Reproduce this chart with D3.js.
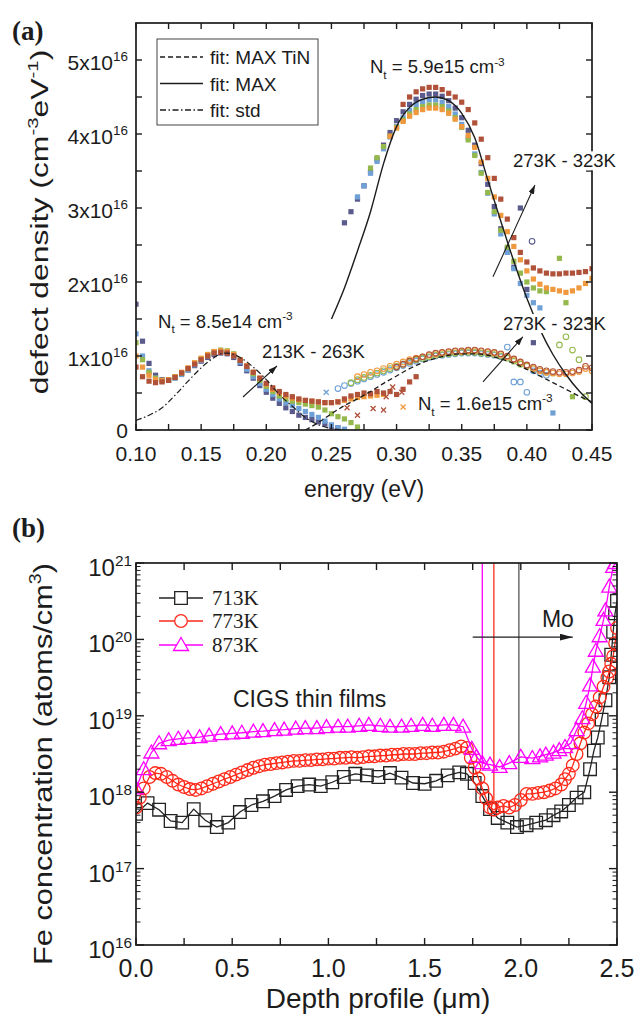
<!DOCTYPE html>
<html><head><meta charset="utf-8">
<script src="https://cdn.jsdelivr.net/npm/d3@7/dist/d3.min.js"></script>
<style>html,body{margin:0;padding:0;background:#fff}svg{display:block}</style>
</head><body>
<svg id="chart" width="636" height="1016"></svg>
<script>
// ================= Panel (a) data (defect density in units of 1e16 cm^-3 eV^-1) =================
const energyLow = [0.100,0.105,0.110,0.115,0.120,0.125,0.130,0.135,0.140,0.145,0.150,0.155,0.160,0.165,0.170,0.175,0.180,0.185,0.190,0.195,0.200,0.205,0.210,0.215,0.220,0.225,0.230,0.235,0.240,0.245,0.250,0.255,0.260,0.265,0.270,0.275,0.280,0.285,0.290,0.295,0.300,0.305,0.310,0.315];
const low213 = [1.70,1.20,0.90,0.74,0.68,0.68,0.71,0.76,0.81,0.87,0.93,0.98,1.02,1.04,1.03,0.98,0.90,0.80,0.70,0.60,0.51,0.43,0.36,0.30,0.25,0.20,0.17,0.14,0.11,0.08,0.05,0.03,null,null,null,null,null,null,null,null,null,null,null,null];
const low223 = [1.30,1.00,0.80,0.70,0.66,0.67,0.70,0.75,0.81,0.88,0.94,1.00,1.04,1.06,1.05,1.00,0.92,0.82,0.72,0.63,0.55,0.48,0.42,0.37,0.33,0.29,0.25,0.21,0.17,0.12,0.07,0.03,0.01,null,null,null,null,null,null,null,null,null,null,null];
const low238 = [1.18,0.95,0.78,0.70,0.67,0.68,0.72,0.77,0.83,0.90,0.96,1.02,1.06,1.08,1.07,1.03,0.95,0.86,0.76,0.67,0.59,0.52,0.46,0.42,0.39,0.37,0.35,0.33,0.31,0.27,0.22,0.18,0.15,0.10,0.04,null,null,null,null,null,null,null,null,null];
const low250 = [1.00,0.85,0.74,0.68,0.67,0.68,0.72,0.78,0.84,0.91,0.97,1.02,1.06,1.07,1.06,1.02,0.95,0.87,0.78,0.70,0.62,0.55,0.50,0.46,0.43,0.41,0.40,0.39,0.38,0.37,0.37,0.38,0.40,0.42,0.44,0.45,0.46,0.47,0.48,null,null,null,null,null];
const low263 = [0.85,0.72,0.66,0.64,0.65,0.67,0.71,0.77,0.83,0.89,0.95,1.00,1.04,1.05,1.04,1.00,0.94,0.86,0.78,0.70,0.63,0.57,0.52,0.48,0.45,0.42,0.40,0.39,0.38,0.37,0.37,0.38,0.42,0.46,0.48,0.50,0.49,0.52,0.50,0.52,0.48,0.55,0.65,0.72];

const energyHigh = [0.255,0.260,0.265,0.270,0.275,0.280,0.285,0.290,0.295,0.300,0.305,0.310,0.315,0.320,0.325,0.330,0.335,0.340,0.345,0.350,0.355,0.360,0.365,0.370,0.375,0.380,0.385,0.390,0.395,0.400,0.405,0.410,0.415,0.420,0.425,0.430,0.435,0.440,0.445,0.450];
const high273 = [null,2.80,2.95,3.12,3.30,3.48,3.66,3.85,4.02,4.18,4.30,4.40,4.47,4.52,4.54,4.54,4.51,4.45,4.35,4.22,4.05,3.85,3.60,3.32,3.02,2.72,2.45,2.20,3.00,1.90,1.18,null,null,null,null,null,null,null,null,null];
const high283 = [null,null,null,3.15,3.30,3.47,3.63,3.80,3.96,4.10,4.22,4.32,4.40,4.44,4.46,4.46,4.43,4.37,4.27,4.13,3.95,3.73,3.48,3.20,2.92,2.65,2.40,2.18,1.98,1.82,1.72,1.65,null,0.23,null,null,null,null,null,null];
const high298 = [null,null,null,null,null,3.54,3.68,3.83,3.97,4.09,4.19,4.27,4.33,4.37,4.39,4.39,4.37,4.31,4.22,4.09,3.92,3.71,3.47,3.21,2.95,2.70,2.47,2.28,2.12,2.00,1.92,1.88,1.87,null,2.32,1.72,0.45,null,null,null];
const high310 = [null,null,null,null,null,null,null,null,3.97,4.08,4.17,4.24,4.29,4.33,4.35,4.35,4.33,4.28,4.20,4.10,3.98,3.82,3.62,3.40,3.15,2.90,2.68,2.48,2.30,2.15,2.04,1.97,1.92,1.90,1.88,1.86,1.88,1.92,1.98,2.05];
const high323 = [null,null,null,null,null,null,null,null,null,null,4.40,4.50,4.57,4.61,4.63,4.63,4.60,4.55,4.50,4.43,4.33,4.15,3.93,3.68,3.40,3.12,2.85,2.60,2.40,2.27,2.19,2.15,2.12,2.11,2.11,2.12,2.12,2.13,2.14,2.18];

const circ273 = [0.56,0.60,0.63,0.66,0.69,0.72,0.75,0.78,0.81,0.84,0.87,0.90,0.93,0.96,0.98,1.00,1.01,1.02,1.03,1.04,1.04,1.04,1.03,1.02,1.01,0.99,1.12,0.65,0.65,0.51,0.80,0.77,0.74,null,null,null,null,null,null,null];
const circ288 = [null,null,0.64,0.68,0.71,0.74,0.77,0.80,0.83,0.86,0.89,0.92,0.95,0.97,0.99,1.01,1.02,1.03,1.04,1.05,1.05,1.05,1.04,1.03,1.02,1.00,0.97,0.93,0.89,0.86,0.83,0.80,0.78,0.77,1.15,1.26,1.08,0.95,0.45,null];
const circ305 = [null,null,null,0.72,0.75,0.78,0.80,0.83,0.86,0.89,0.92,0.95,0.97,0.99,1.01,1.03,1.04,1.05,1.06,1.06,1.07,1.07,1.06,1.05,1.04,1.02,0.99,0.95,0.91,0.87,0.83,0.80,0.78,0.77,0.76,0.76,0.77,0.79,0.83,0.80];
const circ323 = [null,null,null,null,null,null,null,null,null,0.85,0.89,0.93,0.96,0.99,1.02,1.04,1.05,1.06,1.07,1.07,1.08,1.08,1.07,1.06,1.05,1.03,1.00,0.96,0.92,0.88,0.85,0.82,0.80,0.79,0.78,0.78,0.79,0.81,0.86,0.84];
const circOutE = [0.404];
const circOutV = [2.55];

const crossE = [0.246,0.262,0.270,0.282,0.290,0.292,0.297,0.304,0.305];
const crossV = [0.51,0.30,0.20,0.29,0.27,0.45,0.58,0.51,0.31];
const crossCol = [1,4,4,4,4,4,4,4,3];

const fitStdE = [0.100,0.110,0.120,0.130,0.140,0.150,0.160,0.165,0.170,0.180,0.190,0.200,0.210,0.220,0.230,0.240,0.250,0.260];
const fitStdV = [0.13,0.20,0.30,0.47,0.66,0.84,0.98,1.03,1.04,0.98,0.85,0.68,0.48,0.32,0.17,0.07,0.02,0.00];
const fitMaxE = [0.250,0.260,0.270,0.280,0.290,0.300,0.310,0.320,0.330,0.340,0.350,0.360,0.370,0.380,0.390,0.400,0.410,0.420,0.430,0.440,0.450];
const fitMaxV = [1.50,1.92,2.42,2.95,3.60,4.10,4.36,4.47,4.50,4.45,4.28,3.95,3.38,2.82,2.28,1.78,1.36,1.02,0.75,0.53,0.36];
const fitTiNE = [0.230,0.240,0.250,0.260,0.270,0.280,0.290,0.300,0.310,0.320,0.330,0.340,0.350,0.360,0.370,0.380,0.390,0.400,0.410,0.420,0.430,0.440,0.450];
const fitTiNV = [0.00,0.10,0.22,0.33,0.42,0.52,0.63,0.73,0.83,0.91,0.97,1.01,1.03,1.03,1.01,0.96,0.90,0.82,0.73,0.64,0.55,0.46,0.38];

const palette = ["#5a5a8c","#6fa0d6","#94b84b","#f0983d","#b0523a"];
const xTickValsA = [0.10,0.15,0.20,0.25,0.30,0.35,0.40,0.45];
const xTickLabelsA = ["0.10","0.15","0.20","0.25","0.30","0.35","0.40","0.45"];
const xMinorA = [0.125,0.175,0.225,0.275,0.325,0.375,0.425];
const yTickValsA = [0,1,2,3,4,5];
const yTickBaseA = ["0","1x10","2x10","3x10","4x10","5x10"];
const yTickSupA = ["","16","16","16","16","16"];
const yMinorA = [0.5,1.5,2.5,3.5,4.5];
const legendA = ["fit: MAX TiN","fit: MAX","fit: std"];

// ================= Panel (b) data (Fe concentration, atoms/cm^3) =================
const depth713 = [0.00,0.06,0.12,0.18,0.24,0.30,0.36,0.42,0.48,0.54,0.60,0.66,0.72,0.78,0.84,0.90,0.96,1.02,1.08,1.14,1.20,1.26,1.32,1.38,1.44,1.50,1.56,1.62,1.68,1.72,1.76,1.80,1.84,1.88,1.93,1.98,2.03,2.08,2.13,2.17,2.21,2.25,2.29,2.33,2.36,2.38,2.40,2.42,2.44,2.46,2.47,2.48,2.49,2.50];
const fe713 = [5.2e17,7.2e17,5.9e17,4.2e17,4.0e17,6.0e17,4.3e17,3.5e17,4.0e17,5.5e17,6.8e17,7.6e17,8.9e17,1.07e18,1.2e18,1.26e18,1.2e18,1.35e18,1.58e18,1.74e18,1.66e18,1.58e18,1.78e18,1.55e18,1.32e18,1.29e18,1.41e18,1.66e18,1.82e18,1.74e18,1.32e18,8.9e17,6.0e17,4.6e17,4.0e17,3.5e17,3.7e17,4.0e17,4.3e17,5.0e17,5.6e17,6.8e17,8.5e17,1.0e18,2.0e18,3.5e18,5.2e18,8.9e18,1.6e19,3.2e19,6.3e19,1.26e20,2.2e20,3.2e20];
const depth773 = [0.00,0.02,0.04,0.07,0.10,0.13,0.16,0.19,0.22,0.25,0.28,0.31,0.34,0.37,0.40,0.43,0.46,0.49,0.52,0.55,0.58,0.61,0.64,0.67,0.70,0.73,0.76,0.79,0.82,0.85,0.88,0.91,0.94,0.97,1.00,1.03,1.06,1.09,1.12,1.15,1.18,1.21,1.24,1.27,1.30,1.33,1.36,1.39,1.42,1.45,1.48,1.51,1.54,1.57,1.60,1.63,1.66,1.69,1.72,1.74,1.76,1.78,1.80,1.82,1.84,1.86,1.88,1.91,1.94,1.97,2.00,2.03,2.06,2.09,2.12,2.15,2.18,2.21,2.23,2.25,2.27,2.29,2.31,2.33,2.35,2.37,2.39,2.41,2.43,2.45,2.46,2.47,2.48,2.49,2.50];
const fe773 = [6.3e17,8.5e17,1.12e18,1.58e18,1.78e18,1.74e18,1.58e18,1.41e18,1.26e18,1.17e18,1.10e18,1.07e18,1.12e18,1.20e18,1.29e18,1.38e18,1.48e18,1.58e18,1.70e18,1.82e18,1.95e18,2.09e18,2.19e18,2.29e18,2.34e18,2.40e18,2.45e18,2.51e18,2.57e18,2.57e18,2.63e18,2.63e18,2.69e18,2.69e18,2.75e18,2.75e18,2.82e18,2.82e18,2.88e18,2.82e18,2.88e18,2.95e18,2.95e18,3.02e18,3.02e18,3.09e18,3.09e18,3.16e18,3.16e18,3.16e18,3.24e18,3.24e18,3.31e18,3.31e18,3.39e18,3.55e18,3.72e18,3.98e18,3.80e18,2.82e18,2.09e18,1.51e18,1.12e18,8.3e17,6.3e17,5.9e17,6.3e17,6.6e17,6.3e17,6.8e17,7.9e17,9.5e17,9.5e17,9.8e17,1.0e18,1.05e18,1.12e18,1.26e18,1.48e18,1.74e18,2.24e18,3.16e18,4.37e18,6.03e18,7.94e18,1.05e19,1.32e19,1.74e19,2.40e19,3.16e19,3.80e19,4.79e19,6.03e19,8.91e19,1.41e20];
const depth873 = [0.00,0.04,0.08,0.12,0.17,0.22,0.27,0.33,0.38,0.44,0.50,0.55,0.61,0.66,0.72,0.77,0.83,0.88,0.94,0.99,1.05,1.10,1.16,1.21,1.27,1.32,1.38,1.43,1.49,1.54,1.60,1.65,1.70,1.745,1.77,1.80,1.84,1.89,1.94,2.00,2.06,2.10,2.13,2.17,2.20,2.23,2.26,2.29,2.32,2.34,2.36,2.375,2.39,2.41,2.43,2.44,2.46,2.48,2.49];
const fe873 = [1.12e18,2.0e18,3.31e18,4.37e18,4.79e18,5.0e18,5.13e18,5.25e18,5.5e18,5.75e18,5.9e18,6.0e18,6.2e18,6.3e18,6.5e18,6.6e18,6.8e18,6.9e18,6.9e18,7.1e18,7.2e18,7.2e18,7.4e18,7.6e18,7.4e18,7.2e18,7.2e18,7.4e18,7.6e18,7.4e18,7.6e18,7.6e18,7.2e18,3.7e18,2.9e18,2.4e18,2.3e18,2.14e18,2.4e18,2.9e18,2.8e18,2.95e18,3.1e18,3.3e18,3.55e18,3.9e18,4.4e18,6.5e18,9.3e18,1.48e19,2.5e19,4.4e19,7.1e19,1.1e20,1.8e20,2.4e20,4.9e20,8.9e20,1.0e21];
const ifaceDepth = [1.99,1.86,1.80];
const ifaceBottom = [3.2e17,7.2e17,2.1e18];
const seriesNamesB = ["713K","773K","873K"];
const seriesColorsB = ["#222222","#ff2a1a","#ff00ff"];
const xTickValsB = [0,0.25,0.5,0.75,1.0,1.25,1.5,1.75,2.0,2.25,2.5];
const xLabelValsB = [0,0.5,1.0,1.5,2.0,2.5];
const xLabelsB = ["0.0","0.5","1.0","1.5","2.0","2.5"];
const yDecadesB = [1e16,1e17,1e18,1e19,1e20,1e21];
const yExpB = ["16","17","18","19","20","21"];

// ================= drawing =================
const svg = d3.select("#chart");
const SANS = "Arial, 'Liberation Sans', Helvetica, sans-serif";
const SERIF = "'Times New Roman', 'Liberation Serif', serif";
const INK = "#1c1c1c";
const defs = svg.append("defs");
function arrowDef(id, w, h){
  defs.append("marker").attr("id",id).attr("viewBox",`0 0 ${w} ${h}`).attr("refX",w).attr("refY",h/2)
    .attr("markerWidth",w).attr("markerHeight",h).attr("markerUnits","userSpaceOnUse").attr("orient","auto")
    .append("path").attr("d",`M0,0 L${w},${h/2} L0,${h} Z`).attr("fill",INK);
}
arrowDef("ahA",9,6);
arrowDef("ahB",13,7);

function rich(parent, x, y, parts, size, family, anchor){
  const t = parent.append("text").attr("x",x).attr("y",y)
    .attr("font-family",family).attr("font-size",size).attr("fill",INK)
    .attr("text-anchor",anchor||"start");
  let cur = 0;
  parts.forEach(p=>{
    const kind = p[1]||"";
    const off = kind==="sup" ? -0.42*size : kind==="sub" ? 0.3*size : 0;
    const ts = t.append("tspan").text(p[0]).attr("dy", off-cur);
    if(kind) ts.attr("font-size", 0.64*size);
    cur = off;
  });
  return t;
}
function vTitle(cx, cy, parts, size, len){
  const g = svg.append("g").attr("transform",`translate(${cx},${cy}) rotate(-90)`);
  const t = rich(g, 0, 0, parts, size, SANS, "middle");
  const w = t.node().getBBox().width;
  t.attr("transform",`scale(${len/w},1)`);
}
function pairs(xs, ys){ return xs.map((x,i)=>[x,ys[i]]).filter(d=>d[1]!==null && d[1]!==undefined); }

// ---------- Panel (a) ----------
const xA = d3.scaleLinear().domain([0.10,0.45]).range([136,592]);
const yA = d3.scaleLinear().domain([0,5.5]).range([430,23]);
defs.append("clipPath").attr("id","clipA").append("rect").attr("x",136).attr("y",23).attr("width",456).attr("height",407);
const gA = svg.append("g").attr("clip-path","url(#clipA)");
const SQ = 5.2;

// low-temperature squares
[low213,low223,low238,low250,low263].forEach((s,i)=>{
  gA.append("g").selectAll("rect").data(pairs(energyLow,s)).enter().append("rect")
    .attr("x",d=>xA(d[0])-SQ/2).attr("y",d=>yA(d[1])-SQ/2).attr("width",SQ).attr("height",SQ)
    .attr("fill",palette[i]);
});
// open circles
[circ273,circ288,circ305,circ323].forEach((s,i)=>{
  gA.append("g").selectAll("circle").data(pairs(energyHigh,s)).enter().append("circle")
    .attr("cx",d=>xA(d[0])).attr("cy",d=>yA(d[1])).attr("r",2.8)
    .attr("fill","none").attr("stroke",palette[i+1]).attr("stroke-width",1.1);
});
gA.append("g").selectAll("circle").data(pairs(circOutE,circOutV)).enter().append("circle")
  .attr("cx",d=>xA(d[0])).attr("cy",d=>yA(d[1])).attr("r",2.8)
  .attr("fill","none").attr("stroke",palette[0]).attr("stroke-width",1.1);
// high-temperature squares
[high273,high283,high298,high310,high323].forEach((s,i)=>{
  gA.append("g").selectAll("rect").data(pairs(energyHigh,s)).enter().append("rect")
    .attr("x",d=>xA(d[0])-SQ/2).attr("y",d=>yA(d[1])-SQ/2).attr("width",SQ).attr("height",SQ)
    .attr("fill",palette[i]);
});
// crosses
gA.append("g").selectAll("path").data(crossE.map((e,i)=>[e,crossV[i],crossCol[i]])).enter().append("path")
  .attr("d",d=>{const x=xA(d[0]),y=yA(d[1]);return `M${x-2.5},${y-2.5}L${x+2.5},${y+2.5}M${x-2.5},${y+2.5}L${x+2.5},${y-2.5}`;})
  .attr("stroke",d=>palette[d[2]]).attr("stroke-width",1.3);

// fits
const lineA = d3.line().x(d=>xA(d[0])).y(d=>yA(d[1])).curve(d3.curveMonotoneX);
gA.append("path").attr("d",lineA(pairs(fitStdE,fitStdV))).attr("fill","none").attr("stroke",INK).attr("stroke-width",1.2).attr("stroke-dasharray","6,2.5,1.5,2.5");
gA.append("path").attr("d",lineA(pairs(fitTiNE,fitTiNV))).attr("fill","none").attr("stroke",INK).attr("stroke-width",1.3).attr("stroke-dasharray","5,3");
gA.append("path").attr("d",lineA(pairs(fitMaxE,fitMaxV))).attr("fill","none").attr("stroke",INK).attr("stroke-width",1.4);

// annotations (a)
const annA = svg.append("g");
const labelsA = [
  {parts:[["N"],["t","sub"],[" = 5.9e15 cm"],["-3","sup"]], e:0.2796, v:4.82, bg:false},
  {parts:[["N"],["t","sub"],[" = 8.5e14 cm"],["-3","sup"]], e:0.1169, v:1.38, bg:false},
  {parts:[["213K - 263K"]], e:0.1967, v:0.97, bg:false},
  {parts:[["273K - 323K"]], e:0.3817, v:1.35, bg:true},
  {parts:[["N"],["t","sub"],[" = 1.6e15 cm"],["-3","sup"]], e:0.3164, v:0.27, bg:false}
];
const arrowsA = [[0.1821,0.446,0.2082,0.865],[0.374,2.07,0.4062,3.31],[0.3663,0.65,0.397,1.26]];
arrowsA.forEach(a=>{
  annA.append("line").attr("x1",xA(a[0])).attr("y1",yA(a[1])).attr("x2",xA(a[2])).attr("y2",yA(a[3]))
    .attr("stroke",INK).attr("stroke-width",1.1).attr("marker-end","url(#ahA)");
});
function labelWithBg(parent, l){
  const t = rich(parent, xA(l.e), yA(l.v), l.parts, 18.5, SANS, "start");
  if(l.bg){
    const b = t.node().getBBox();
    parent.insert("rect", function(){return t.node();}).attr("x",b.x-2).attr("y",b.y+1).attr("width",b.width+4).attr("height",b.height-2).attr("fill","#fff");
  }
}
labelsA.forEach(l=>labelWithBg(annA,l));

// frame and ticks (a)
const axA = svg.append("g").attr("stroke",INK).attr("stroke-width",1.4);
[...xTickValsA,...xMinorA].forEach(v=>{
  axA.append("line").attr("x1",xA(v)).attr("x2",xA(v)).attr("y1",430).attr("y2",424);
  axA.append("line").attr("x1",xA(v)).attr("x2",xA(v)).attr("y1",23).attr("y2",29);
});
[...yTickValsA,...yMinorA].forEach(v=>{
  axA.append("line").attr("x1",136).attr("x2",142).attr("y1",yA(v)).attr("y2",yA(v));
  axA.append("line").attr("x1",592).attr("x2",586).attr("y1",yA(v)).attr("y2",yA(v));
});
svg.append("rect").attr("x",136).attr("y",23).attr("width",456).attr("height",407).attr("fill","none").attr("stroke",INK).attr("stroke-width",1.7);
// upper label sits over the right axis
labelWithBg(svg, {parts:[["273K - 323K"]], e:0.3894, v:3.55, bg:true});

xTickValsA.forEach((v,i)=>{
  svg.append("text").attr("x",xA(v)).attr("y",461).attr("text-anchor","middle")
    .attr("font-family",SANS).attr("font-size",21).attr("fill",INK).text(xTickLabelsA[i]);
});
yTickValsA.forEach((v,i)=>{
  const parts = yTickSupA[i] ? [[yTickBaseA[i]],[yTickSupA[i],"sup"]] : [[yTickBaseA[i]]];
  rich(svg, 128, yA(v) + (yTickSupA[i]?10:7.5), parts, 21, SANS, "end");
});
svg.append("text").attr("x",364).attr("y",497).attr("text-anchor","middle")
  .attr("font-family",SANS).attr("font-size",23).attr("fill",INK).text("energy (eV)");
vTitle(48, 222, [["defect density (cm"],["-3","sup"],["eV"],["-1","sup"],[")"]], 23, 345);
svg.append("text").attr("x",12).attr("y",40).attr("font-family",SERIF).attr("font-weight","bold")
  .attr("font-size",27).attr("fill",INK).text("(a)");

// legend (a)
const legA = svg.append("g");
legA.append("rect").attr("x",157).attr("y",39).attr("width",161).attr("height",86).attr("fill","#fff").attr("stroke","#444").attr("stroke-width",1);
const legDash = ["5,3", null, "6,2.5,1.5,2.5"];
legendA.forEach((name,i)=>{
  const y = 57 + i*26.5;
  const ln = legA.append("line").attr("x1",160).attr("x2",203).attr("y1",y).attr("y2",y).attr("stroke",INK).attr("stroke-width",1.3);
  if(legDash[i]) ln.attr("stroke-dasharray",legDash[i]);
  legA.append("text").attr("x",210).attr("y",y+7).attr("font-family",SANS).attr("font-size",19).attr("fill",INK).text(name);
});

// ---------- Panel (b) ----------
const xB = d3.scaleLinear().domain([0,2.5]).range([136,617]);
const yB = d3.scaleLog().domain([1e16,1e21]).range([945,563]);
defs.append("clipPath").attr("id","clipB").append("rect").attr("x",136).attr("y",563).attr("width",481).attr("height",382);
const gB = svg.append("g").attr("clip-path","url(#clipB)");

// interface lines
ifaceDepth.forEach((d,i)=>{
  gB.append("line").attr("x1",xB(d)).attr("x2",xB(d)).attr("y1",yB(1e21)).attr("y2",yB(ifaceBottom[i]))
    .attr("stroke", i===0 ? "#555" : seriesColorsB[i]).attr("stroke-width",1.3);
});

const seriesB = [[depth713,fe713],[depth773,fe773],[depth873,fe873]];
const lineB = d3.line().x(d=>xB(d[0])).y(d=>yB(d[1]));
function markerPath(kind, x, y){
  if(kind===0) return `M${x-6.3},${y-6.3}h12.6v12.6h-12.6Z`;
  if(kind===1) return `M${x-6.3},${y}a6.3,6.3 0 1,0 12.6,0a6.3,6.3 0 1,0 -12.6,0`;
  return `M${x},${y-7.5}L${x+7.5},${y+5.5}L${x-7.5},${y+5.5}Z`;
}
seriesB.forEach((s,i)=>{
  const pts = pairs(s[0],s[1]);
  gB.append("path").attr("d",lineB(pts)).attr("fill","none").attr("stroke",seriesColorsB[i]).attr("stroke-width",1.3);
  gB.append("g").selectAll("path").data(pts).enter().append("path")
    .attr("d",d=>markerPath(i,xB(d[0]),yB(d[1])))
    .attr("fill","none").attr("stroke",seriesColorsB[i]).attr("stroke-width",1.3);
});

// Mo arrow & labels
svg.append("line").attr("x1",xB(1.75)).attr("x2",xB(2.27)).attr("y1",yB(1.07e20)).attr("y2",yB(1.07e20))
  .attr("stroke",INK).attr("stroke-width",1.2).attr("marker-end","url(#ahB)");
svg.append("text").attr("x",xB(2.11)).attr("y",yB(1.45e20)).attr("font-family",SANS).attr("font-size",23).attr("fill",INK).text("Mo");
svg.append("text").attr("x",xB(0.504)).attr("y",yB(1.3e19)).attr("font-family",SANS).attr("font-size",23).attr("fill",INK).text("CIGS thin films");

// frame & ticks (b)
const axB = svg.append("g").attr("stroke",INK).attr("stroke-width",1.4);
xTickValsB.forEach(v=>{
  axB.append("line").attr("x1",xB(v)).attr("x2",xB(v)).attr("y1",945).attr("y2",938);
  axB.append("line").attr("x1",xB(v)).attr("x2",xB(v)).attr("y1",563).attr("y2",570);
});
yDecadesB.forEach((dv,k)=>{
  axB.append("line").attr("x1",136).attr("x2",144).attr("y1",yB(dv)).attr("y2",yB(dv));
  axB.append("line").attr("x1",617).attr("x2",609).attr("y1",yB(dv)).attr("y2",yB(dv));
  if(k<yDecadesB.length-1){
    for(let m=2;m<=9;m++){
      const v = dv*m;
      axB.append("line").attr("x1",136).attr("x2",140.5).attr("y1",yB(v)).attr("y2",yB(v)).attr("stroke-width",1);
      axB.append("line").attr("x1",617).attr("x2",612.5).attr("y1",yB(v)).attr("y2",yB(v)).attr("stroke-width",1);
    }
  }
});
svg.append("rect").attr("x",136).attr("y",563).attr("width",481).attr("height",382).attr("fill","none").attr("stroke",INK).attr("stroke-width",1.7);

xLabelValsB.forEach((v,i)=>{
  svg.append("text").attr("x",xB(v)).attr("y",977).attr("text-anchor","middle")
    .attr("font-family",SANS).attr("font-size",25).attr("fill",INK).text(xLabelsB[i]);
});
yDecadesB.forEach((v,i)=>{
  rich(svg, 132, yB(v)+13, [["10"],[yExpB[i],"sup"]], 24, SANS, "end");
});
svg.append("text").attr("x",378).attr("y",1008).attr("text-anchor","middle")
  .attr("font-family",SANS).attr("font-size",28).attr("fill",INK).text("Depth profile (\u03bcm)");
vTitle(52, 764, [["Fe concentration (atoms/cm"],["3","sup"],[")"]], 26, 402);
svg.append("text").attr("x",12).attr("y",537).attr("font-family",SERIF).attr("font-weight","bold")
  .attr("font-size",27).attr("fill",INK).text("(b)");

// legend (b)
const legB = svg.append("g");
seriesNamesB.forEach((name,i)=>{
  const y = [598,621,645][i];
  legB.append("line").attr("x1",159).attr("x2",203).attr("y1",y).attr("y2",y).attr("stroke",seriesColorsB[i]).attr("stroke-width",1.6);
  legB.append("path").attr("d",markerPath(i,181,y)).attr("fill","#fff").attr("stroke",seriesColorsB[i]).attr("stroke-width",1.3);
  legB.append("text").attr("x",212).attr("y",y+7).attr("font-family",SERIF).attr("font-size",21).attr("fill",INK).text(name);
});
</script>
</body></html>
